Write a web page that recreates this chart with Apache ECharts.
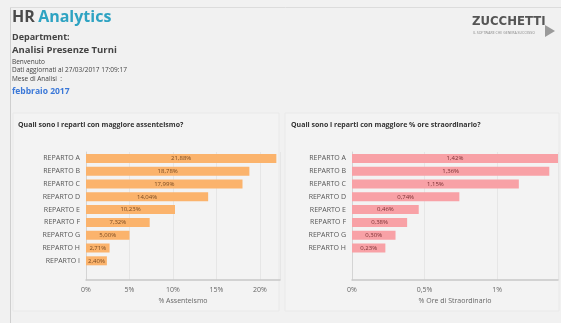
<!DOCTYPE html>
<html>
<head>
<meta charset="utf-8">
<script src="https://cdn.jsdelivr.net/npm/echarts@6/dist/echarts.min.js"></script>
<style>
  html, body { margin: 0; padding: 0; background: #f1f1f1; }
  #chart { width: 561px; height: 323px; }
</style>
</head>
<body>
<div id="chart"></div>
<script>
// dati
var repartiAss = ['REPARTO A', 'REPARTO B', 'REPARTO C', 'REPARTO D', 'REPARTO E', 'REPARTO F', 'REPARTO G', 'REPARTO H', 'REPARTO I'];
var valoriAss = [21.88, 18.78, 17.99, 14.04, 10.23, 7.32, 5.00, 2.71, 2.40];
var repartiStr = ['REPARTO A', 'REPARTO B', 'REPARTO C', 'REPARTO D', 'REPARTO E', 'REPARTO F', 'REPARTO G', 'REPARTO H'];
var valoriStr = [1.42, 1.36, 1.15, 0.74, 0.46, 0.38, 0.30, 0.23];
var tickAss = ['0%', '5%', '10%', '15%', '20%'];
var tickStr = ['0%', '0,5%', '1%'];

var font = 'Open Sans, Noto Sans, sans-serif';

// formato italiano
function perc(v) {
    return v.toFixed(2).replace('.', ',') + '%';
}

function catAxis(gridIndex, cats) {
    return {
        type: 'category',
        gridIndex: gridIndex,
        data: cats,
        inverse: true,
        max: 9, // spazio vuoto sotto le barre
        axisLine: { lineStyle: { color: '#d4d4d4' } },
        axisTick: { show: false },
        axisLabel: {
            color: '#555', fontSize: 7, fontFamily: font, margin: 6,
            formatter: function (v) { return v || ''; }
        }
    };
}

function valAxis(gridIndex, max, interval, ticks, name) {
    return {
        type: 'value',
        gridIndex: gridIndex,
        min: 0,
        max: max,
        interval: interval,
        name: name,
        nameLocation: 'middle',
        nameGap: 17,
        nameTextStyle: { color: '#666', fontSize: 7, fontFamily: font },
        axisLine: { show: true, lineStyle: { color: '#c8c8c8', width: 1.5 } },
        axisTick: { show: false },
        splitLine: { lineStyle: { color: '#e6e6e6' } },
        axisLabel: {
            color: '#666', fontSize: 7, fontFamily: font, margin: 6,
            showMaxLabel: false,
            formatter: function (v) {
                var i = Math.round(v / interval);
                return ticks[i] || '';
            }
        }
    };
}

function barSerie(idx, values, color, textColor) {
    return {
        type: 'bar',
        xAxisIndex: idx,
        yAxisIndex: idx,
        data: values,
        barWidth: 9,
        itemStyle: { color: color },
        label: {
            show: true,
            position: 'inside',
            color: textColor,
            fontSize: 6,
            fontFamily: font,
            formatter: function (p) { return perc(p.value); }
        }
    };
}

var option = {
    backgroundColor: '#f1f1f1',
    animation: false,
    graphic: [
        { type: 'line', shape: { x1: 10.5, y1: 7, x2: 10.5, y2: 323 }, style: { stroke: '#cfcfcf', lineWidth: 1 } },
        { type: 'line', shape: { x1: 10, y1: 7.5, x2: 561, y2: 7.5 }, style: { stroke: '#dcdcdc', lineWidth: 1 } },
        { type: 'rect', shape: { x: 13, y: 113, width: 266, height: 198 }, style: { fill: '#f3f3f3', stroke: '#e9e9e9' } },
        { type: 'rect', shape: { x: 285, y: 113, width: 274, height: 198 }, style: { fill: '#f3f3f3', stroke: '#e9e9e9' } },
        {
            type: 'text', left: 12, top: 9,
            style: {
                text: '{a|HR} {b|Analytics}',
                rich: {
                    a: { fontSize: 16, fontWeight: 'bold', fill: '#4a4a4a', fontFamily: font },
                    b: { fontSize: 16, fontWeight: 'bold', fill: '#2ea3c2', fontFamily: font }
                }
            }
        },
        { type: 'text', left: 12, top: 33, style: { text: 'Department:', fontSize: 9, fontWeight: 'bold', fill: '#444', fontFamily: font } },
        { type: 'text', left: 12, top: 45, style: { text: 'Analisi Presenze Turni', fontSize: 9.5, fontWeight: 'bold', fill: '#444', fontFamily: font } },
        { type: 'text', left: 12, top: 59, style: { text: 'Benvenuto', fontSize: 6.5, fill: '#444', fontFamily: font } },
        { type: 'text', left: 12, top: 67, style: { text: 'Dati aggiornati al 27/03/2017 17:09:17', fontSize: 6.5, fill: '#444', fontFamily: font } },
        { type: 'text', left: 12, top: 76, style: { text: 'Mese di Analisi  :', fontSize: 6.5, fill: '#444', fontFamily: font } },
        { type: 'text', left: 12, top: 87, style: { text: 'febbraio 2017', fontSize: 8.5, fontWeight: 'bold', fill: '#3b78d8', fontFamily: font } },
        { type: 'text', left: 472, top: 15, style: { text: 'ZUCCHETTI', fontSize: 13, fontWeight: 'bold', fill: '#555', fontFamily: 'DejaVu Sans Condensed, sans-serif' } },
        { type: 'text', left: 473, top: 31, style: { text: 'IL SOFTWARE CHE GENERA SUCCESSO', fontSize: 3.5, fill: '#888', fontFamily: font } },
        { type: 'polygon', shape: { points: [[545, 25], [555, 31], [545, 37]] }, style: { fill: '#9a9a9a' } },
        { type: 'text', left: 18, top: 121, style: { text: 'Quali sono i reparti con maggiore assenteismo?', fontSize: 7, fontWeight: 'bold', fill: '#333', fontFamily: font } },
        { type: 'text', left: 291, top: 121, style: { text: 'Quali sono i reparti con maggiore % ore straordinario?', fontSize: 7, fontWeight: 'bold', fill: '#333', fontFamily: font } }
    ],
    grid: [
        { left: 86, right: 281, top: 152, bottom: 43 },
        { left: 352, right: 3, top: 152, bottom: 43 }
    ],
    xAxis: [
        valAxis(0, 22.3, 5, tickAss, '% Assenteismo'),
        valAxis(1, 1.42, 0.5, tickStr, '% Ore di Straordinario')
    ],
    yAxis: [
        catAxis(0, repartiAss),
        catAxis(1, repartiStr)
    ],
    series: [
        barSerie(0, valoriAss, '#fbb36c', '#7a4b22'),
        barSerie(1, valoriStr, '#f8a1a6', '#7a3033')
    ]
};

var myChart = echarts.init(document.getElementById('chart'));
myChart.setOption(option);
</script>
</body>
</html>
